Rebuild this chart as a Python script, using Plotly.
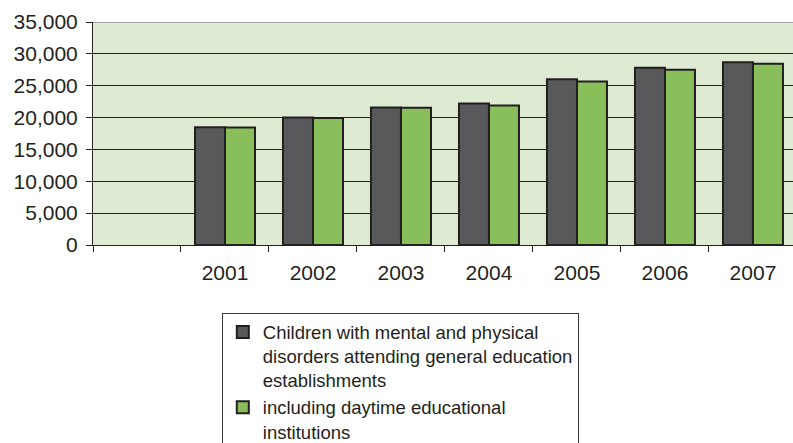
import plotly.graph_objects as go

# Category positions: slot 0 is an empty leading category, years fill slots 1..7
years = ["2001", "2002", "2003", "2004", "2005", "2006", "2007"]
slots = [1, 2, 3, 4, 5, 6, 7]
boundaries = [-0.5, 0.5, 1.5, 2.5, 3.5, 4.5, 5.5, 6.5, 7.5]

children_total = [18500, 20000, 21600, 22200, 26000, 27800, 28700]
daytime_institutions = [18450, 19950, 21550, 21900, 25650, 27500, 28450]

series_names = [
    "Children with mental and physical<br>disorders attending general education<br>establishments",
    "including daytime educational<br>institutions",
]

y_ticks = [0, 5000, 10000, 15000, 20000, 25000, 30000, 35000]

INK = "#231f20"
FONT = "Liberation Sans, Arial, Helvetica, sans-serif"

fig = go.Figure()
fig.add_trace(go.Bar(
    x=slots, y=children_total, name=series_names[0],
    marker=dict(color="#58595b", line=dict(color=INK, width=2)),
))
fig.add_trace(go.Bar(
    x=slots, y=daytime_institutions, name=series_names[1],
    marker=dict(color="#89bf5b", line=dict(color=INK, width=2)),
))

fig.update_layout(
    width=793, height=443,
    margin=dict(l=93, r=0, t=22, b=198, autoexpand=False),
    paper_bgcolor="white",
    plot_bgcolor="#dfead2",
    barmode="group",
    bargap=0.318,
    bargroupgap=0,
    font=dict(family=FONT, color=INK),
    showlegend=True,
    legend=dict(
        x=0.184, y=-0.303, xanchor="left", yanchor="top",
        bordercolor="#3a3a3a", borderwidth=1, bgcolor="white",
        font=dict(size=18.5, color=INK, family=FONT),
        valign="top", itemwidth=30, tracegroupgap=0,
    ),
)

fig.update_xaxes(
    range=[-0.5, 7.455],
    tickmode="array", tickvals=slots, ticktext=years,
    ticks="", showgrid=False, zeroline=False,
    showline=True, linecolor=INK, linewidth=1,
    tickfont=dict(size=21, color=INK),
    ticklabelstandoff=9,
    minor=dict(tickmode="array", tickvals=boundaries, ticks="outside",
               ticklen=6, tickcolor=INK, tickwidth=1, showgrid=False),
)

fig.update_yaxes(
    range=[0, 35000],
    tickmode="array", tickvals=y_ticks, tickformat=",",
    ticks="outside", ticklen=6, tickcolor=INK, tickwidth=1,
    showline=True, linecolor=INK, linewidth=1,
    showgrid=True, gridcolor=INK, gridwidth=1,
    zeroline=False,
    tickfont=dict(size=21, color=INK),
    ticklabelstandoff=4,
)

# light grey frame line along the top of the plotting area
fig.add_shape(type="line", xref="paper", yref="y", x0=0, x1=1, y0=35000, y1=35000,
              line=dict(color="#a3a3a3", width=2), layer="above")

fig.write_html("out.html")
